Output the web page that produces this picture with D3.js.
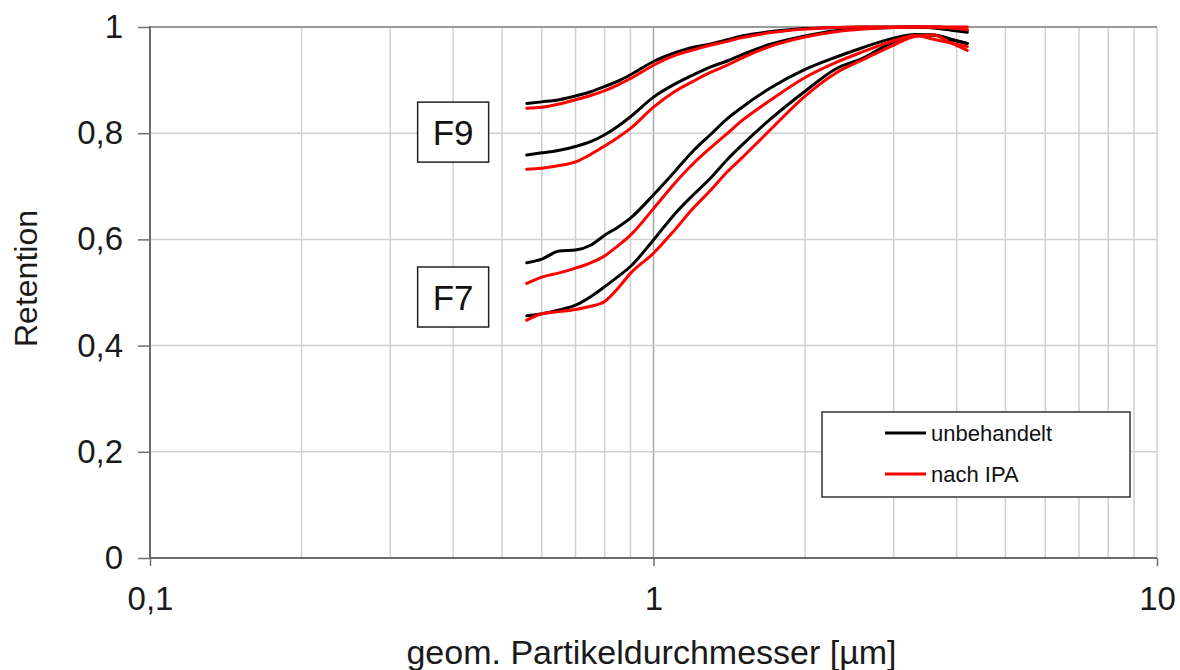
<!DOCTYPE html>
<html>
<head>
<meta charset="utf-8">
<script src="https://cdn.jsdelivr.net/npm/d3@7"></script>
<style>
  html, body { margin: 0; padding: 0; background: #fff; }
  svg { display: block; font-family: "Liberation Sans", Arial, sans-serif; }
</style>
</head>
<body>
<svg id="chart" width="1180" height="670"></svg>
<script>
// Particle diameters (µm) at which retention was sampled
const diameters = [0.56, 0.6, 0.65, 0.7, 0.75, 0.8, 0.85, 0.9, 1.0, 1.1, 1.2, 1.3, 1.4, 1.5, 1.7, 2.0, 2.3, 2.6, 3.0, 3.3, 3.6, 3.9, 4.2];

// F9 filters
const f9aUnbehandelt = [0.856, 0.859, 0.863, 0.870, 0.878, 0.888, 0.898, 0.910, 0.935, 0.951, 0.962, 0.968, 0.976, 0.983, 0.991, 0.997, 0.999, 1.0, 1.0, 1.0, 1.0, 0.998, 0.994];
const f9aNachIPA     = [0.847, 0.849, 0.855, 0.863, 0.871, 0.880, 0.891, 0.903, 0.928, 0.946, 0.957, 0.966, 0.973, 0.980, 0.989, 0.996, 0.999, 1.0, 1.0, 1.0, 1.0, 1.0, 1.0];
const f9bUnbehandelt = [0.759, 0.763, 0.768, 0.775, 0.784, 0.797, 0.813, 0.831, 0.868, 0.892, 0.910, 0.925, 0.936, 0.948, 0.967, 0.983, 0.993, 0.997, 0.999, 1.0, 0.998, 0.994, 0.990];
const f9bNachIPA     = [0.732, 0.734, 0.739, 0.746, 0.760, 0.776, 0.792, 0.809, 0.849, 0.878, 0.898, 0.915, 0.928, 0.942, 0.963, 0.981, 0.991, 0.996, 0.999, 1.0, 1.0, 0.998, 0.995];

// F7 filters
const f7aUnbehandelt = [0.556, 0.563, 0.578, 0.580, 0.589, 0.608, 0.623, 0.640, 0.684, 0.727, 0.767, 0.798, 0.827, 0.849, 0.884, 0.920, 0.943, 0.961, 0.979, 0.986, 0.985, 0.976, 0.969];
const f7aNachIPA     = [0.517, 0.529, 0.537, 0.546, 0.556, 0.569, 0.588, 0.608, 0.658, 0.705, 0.743, 0.773, 0.799, 0.824, 0.861, 0.905, 0.933, 0.953, 0.974, 0.984, 0.977, 0.970, 0.963];
const f7bUnbehandelt = [0.456, 0.460, 0.467, 0.476, 0.492, 0.511, 0.530, 0.549, 0.599, 0.647, 0.684, 0.716, 0.750, 0.778, 0.825, 0.879, 0.921, 0.941, 0.972, 0.984, 0.985, 0.977, 0.969];
const f7bNachIPA     = [0.448, 0.460, 0.464, 0.468, 0.474, 0.483, 0.508, 0.536, 0.574, 0.617, 0.659, 0.693, 0.727, 0.754, 0.805, 0.870, 0.913, 0.938, 0.966, 0.982, 0.985, 0.970, 0.956];

// Axis ticks and labels
const xTickValues = [0.1, 1, 10];
const xTickLabels = ["0,1", "1", "10"];
const xGridValues = [0.2, 0.3, 0.4, 0.5, 0.6, 0.7, 0.8, 0.9, 1, 2, 3, 4, 5, 6, 7, 8, 9, 10];
const yTickValues = [0, 0.2, 0.4, 0.6, 0.8, 1];
const yTickLabels = ["0", "0,2", "0,4", "0,6", "0,8", "1"];

const legendLabels = ["unbehandelt", "nach IPA"];
// Filter class tags, placed at (diameter, retention)
const groupLabels = [
  { text: "F9", at: 0.4, level: 0.802 },
  { text: "F7", at: 0.4, level: 0.4915 }
];

const seriesList = [
  { values: f9aUnbehandelt, kind: 0 },
  { values: f9bUnbehandelt, kind: 0 },
  { values: f7aUnbehandelt, kind: 0 },
  { values: f7bUnbehandelt, kind: 0 },
  { values: f9aNachIPA, kind: 1 },
  { values: f9bNachIPA, kind: 1 },
  { values: f7aNachIPA, kind: 1 },
  { values: f7bNachIPA, kind: 1 }
];
const colors = ["#000000", "#ff0000"];

const plot = { left: 150, right: 1157, top: 27, bottom: 558 };
const svg = d3.select("#chart");

const x = d3.scaleLog().domain([0.1, 10]).range([plot.left, plot.right]);
const y = d3.scaleLinear().domain([0, 1]).range([plot.bottom, plot.top]);

// Grid
const grid = svg.append("g");
grid.selectAll("line.v").data(xGridValues).join("line")
  .attr("x1", d => x(d)).attr("x2", d => x(d))
  .attr("y1", plot.top).attr("y2", plot.bottom)
  .attr("stroke", d => d === 1 ? "#a8a8a8" : "#d0d0d0")
  .attr("stroke-width", 1.5);
grid.selectAll("line.h").data(yTickValues.filter(v => v > 0)).join("line")
  .attr("x1", plot.left).attr("x2", plot.right)
  .attr("y1", d => y(d)).attr("y2", d => y(d))
  .attr("stroke", d => d === 1 ? "#9a9a9a" : "#d0d0d0")
  .attr("stroke-width", d => d === 1 ? 2 : 1.5);

// Axes
const axisColor = "#6e6e6e";
const yAxis = svg.append("g")
  .attr("transform", `translate(${plot.left},0)`)
  .call(d3.axisLeft(y).tickValues(yTickValues).tickSize(12).tickPadding(15)
    .tickFormat((d, i) => yTickLabels[i]));
const xAxis = svg.append("g")
  .attr("transform", `translate(0,${plot.bottom})`)
  .call(d3.axisBottom(x).tickValues(xTickValues).tickSize(8).tickPadding(21)
    .tickFormat((d, i) => xTickLabels[i]));

[yAxis, xAxis].forEach(g => {
  g.select(".domain").attr("stroke", axisColor).attr("stroke-width", 2);
  g.selectAll(".tick line").attr("stroke", axisColor).attr("stroke-width", 1.5);
  g.selectAll(".tick text")
    .attr("fill", "#1a1a1a")
    .style("font-size", "33px")
    .style("font-family", "'Liberation Sans', Arial, sans-serif");
});
yAxis.select(".domain").attr("d", `M0,${plot.top - 1}V${plot.bottom + 1}`);
xAxis.select(".domain").attr("d", `M${plot.left},0H${plot.right}`);

// Axis titles
svg.append("text")
  .attr("x", (plot.left + plot.right) / 2 - 2)
  .attr("y", 664)
  .attr("text-anchor", "middle")
  .attr("fill", "#1a1a1a")
  .style("font-size", "34px")
  .text("geom. Partikeldurchmesser [µm]");

svg.append("text")
  .attr("transform", `translate(37,${(plot.top + plot.bottom) / 2 - 14}) rotate(-90)`)
  .attr("text-anchor", "middle")
  .attr("fill", "#1a1a1a")
  .style("font-size", "32px")
  .text("Retention");

// Curves
const line = d3.line()
  .x((d, i) => x(diameters[i]))
  .y(d => y(d))
  .curve(d3.curveMonotoneX);

svg.append("g").selectAll("path").data(seriesList).join("path")
  .attr("d", s => line(s.values))
  .attr("fill", "none")
  .attr("stroke", s => colors[s.kind])
  .attr("stroke-width", 3)
  .attr("stroke-linejoin", "round")
  .attr("stroke-linecap", "round");

// Filter class tags
const boxW = 71, boxH = 60;
const groups = svg.append("g").selectAll("g").data(groupLabels).join("g")
  .attr("transform", d => `translate(${x(d.at)},${y(d.level)})`);
groups.append("rect")
  .attr("x", -boxW / 2).attr("y", -boxH / 2)
  .attr("width", boxW).attr("height", boxH)
  .attr("fill", "#fff").attr("stroke", "#222").attr("stroke-width", 1.5);
groups.append("text")
  .attr("text-anchor", "middle")
  .attr("dy", "0.36em")
  .attr("fill", "#111")
  .style("font-size", "35px")
  .text(d => d.text);

// Legend
const legend = svg.append("g").attr("transform", "translate(822,412)");
legend.append("rect")
  .attr("width", 308).attr("height", 85)
  .attr("fill", "#fff").attr("stroke", "#333").attr("stroke-width", 1.5);
const items = legend.selectAll("g.item").data(legendLabels).join("g")
  .attr("transform", (d, i) => `translate(0,${21 + i * 41})`);
items.append("line")
  .attr("x1", 63).attr("x2", 104)
  .attr("stroke", (d, i) => colors[i]).attr("stroke-width", 3);
items.append("text")
  .attr("x", 109).attr("dy", "0.35em")
  .attr("fill", "#111")
  .style("font-size", "22px")
  .text(d => d);
</script>
</body>
</html>
